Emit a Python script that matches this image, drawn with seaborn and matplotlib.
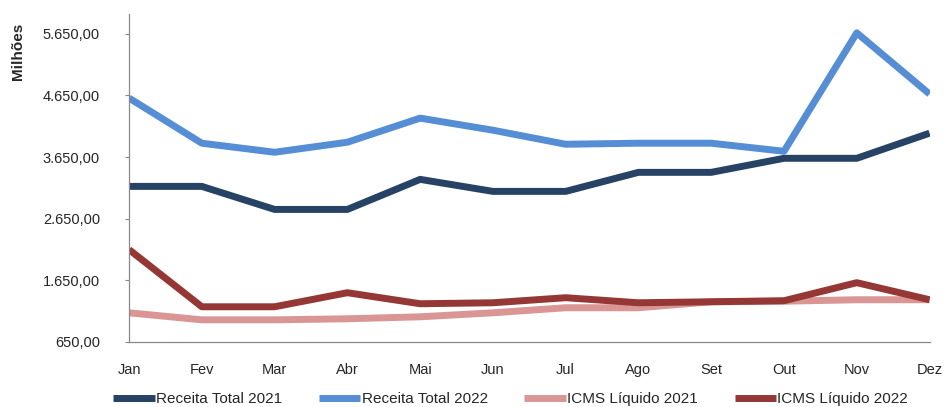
import pandas as pd
import numpy as np
import matplotlib
matplotlib.use('Agg')
import matplotlib.pyplot as plt
import seaborn as sns

meses = ["Jan", "Fev", "Mar", "Abr", "Mai", "Jun", "Jul", "Ago", "Set", "Out", "Nov", "Dez"]

receita_2021 = [3174, 3174, 2800, 2800, 3288, 3093, 3093, 3402, 3402, 3630, 3630, 4038]
receita_2022 = [4608, 3875, 3728, 3891, 4282, 4086, 3858, 3875, 3875, 3744, 5666, 4673]
icms_2021 = [1122, 1008, 1008, 1025, 1057, 1122, 1204, 1204, 1301, 1310, 1334, 1334]
icms_2022 = [2148, 1220, 1220, 1448, 1269, 1285, 1367, 1285, 1301, 1318, 1611, 1334]

series = {
    "Receita Total 2021": receita_2021,
    "Receita Total 2022": receita_2022,
    "ICMS Líquido 2021": icms_2021,
    "ICMS Líquido 2022": icms_2022,
}
cores = ["#264264", "#558ED5", "#D99694", "#953735"]
yticks = [650, 1650, 2650, 3650, 4650, 5650]

df = pd.DataFrame([
    {"mes": i, "serie": nome, "valor": v}
    for nome, vals in series.items()
    for i, v in enumerate(vals)
])

sns.set_style("white")
plt.rcParams['font.family'] = ['Liberation Sans', 'DejaVu Sans']

fig = plt.figure(figsize=(9.44, 4.07), dpi=100)
ax = fig.add_axes([0.1367, 0.16, 0.848, 0.806])

sns.lineplot(data=df, x="mes", y="valor", hue="serie", palette=cores,
             linewidth=5, ax=ax, legend=False, solid_capstyle="butt")

ax.set_xlim(0, 11)
ax.set_ylim(650, 5975)
ax.set_xticks(range(12))
ax.set_xticklabels(meses, fontsize=10.5)
ax.set_yticks(yticks)
# formato brasileiro: 1.650,00
ax.set_yticklabels([f"{v:,.2f}".replace(",", "X").replace(".", ",").replace("X", ".") for v in yticks],
                   fontsize=10.5)
ax.tick_params(axis='y', length=3, width=0.8, color="#888888", direction='out', left=True, pad=18)
ax.tick_params(axis='x', length=0, pad=15)

for s in ["top", "right"]:
    ax.spines[s].set_visible(False)
for s in ["left", "bottom"]:
    ax.spines[s].set_color("#888888")
    ax.spines[s].set_linewidth(0.9)

ax.set_xlabel("")
ax.set_ylabel("")
fig.text(0.019, 0.873, "Milhões", rotation=90, fontsize=11, fontweight="bold",
         ha="center", va="center")

handles = [plt.Line2D([], [], color=c, lw=5, solid_capstyle="butt") for c in cores]
fig.legend(handles, list(series.keys()), loc="center", bbox_to_anchor=(0.541, 0.019),
           ncol=4, frameon=False, handlelength=2.7, handletextpad=0.1, columnspacing=2.4,
           prop={'size': 11})

fig.savefig("out.png", dpi=100)
